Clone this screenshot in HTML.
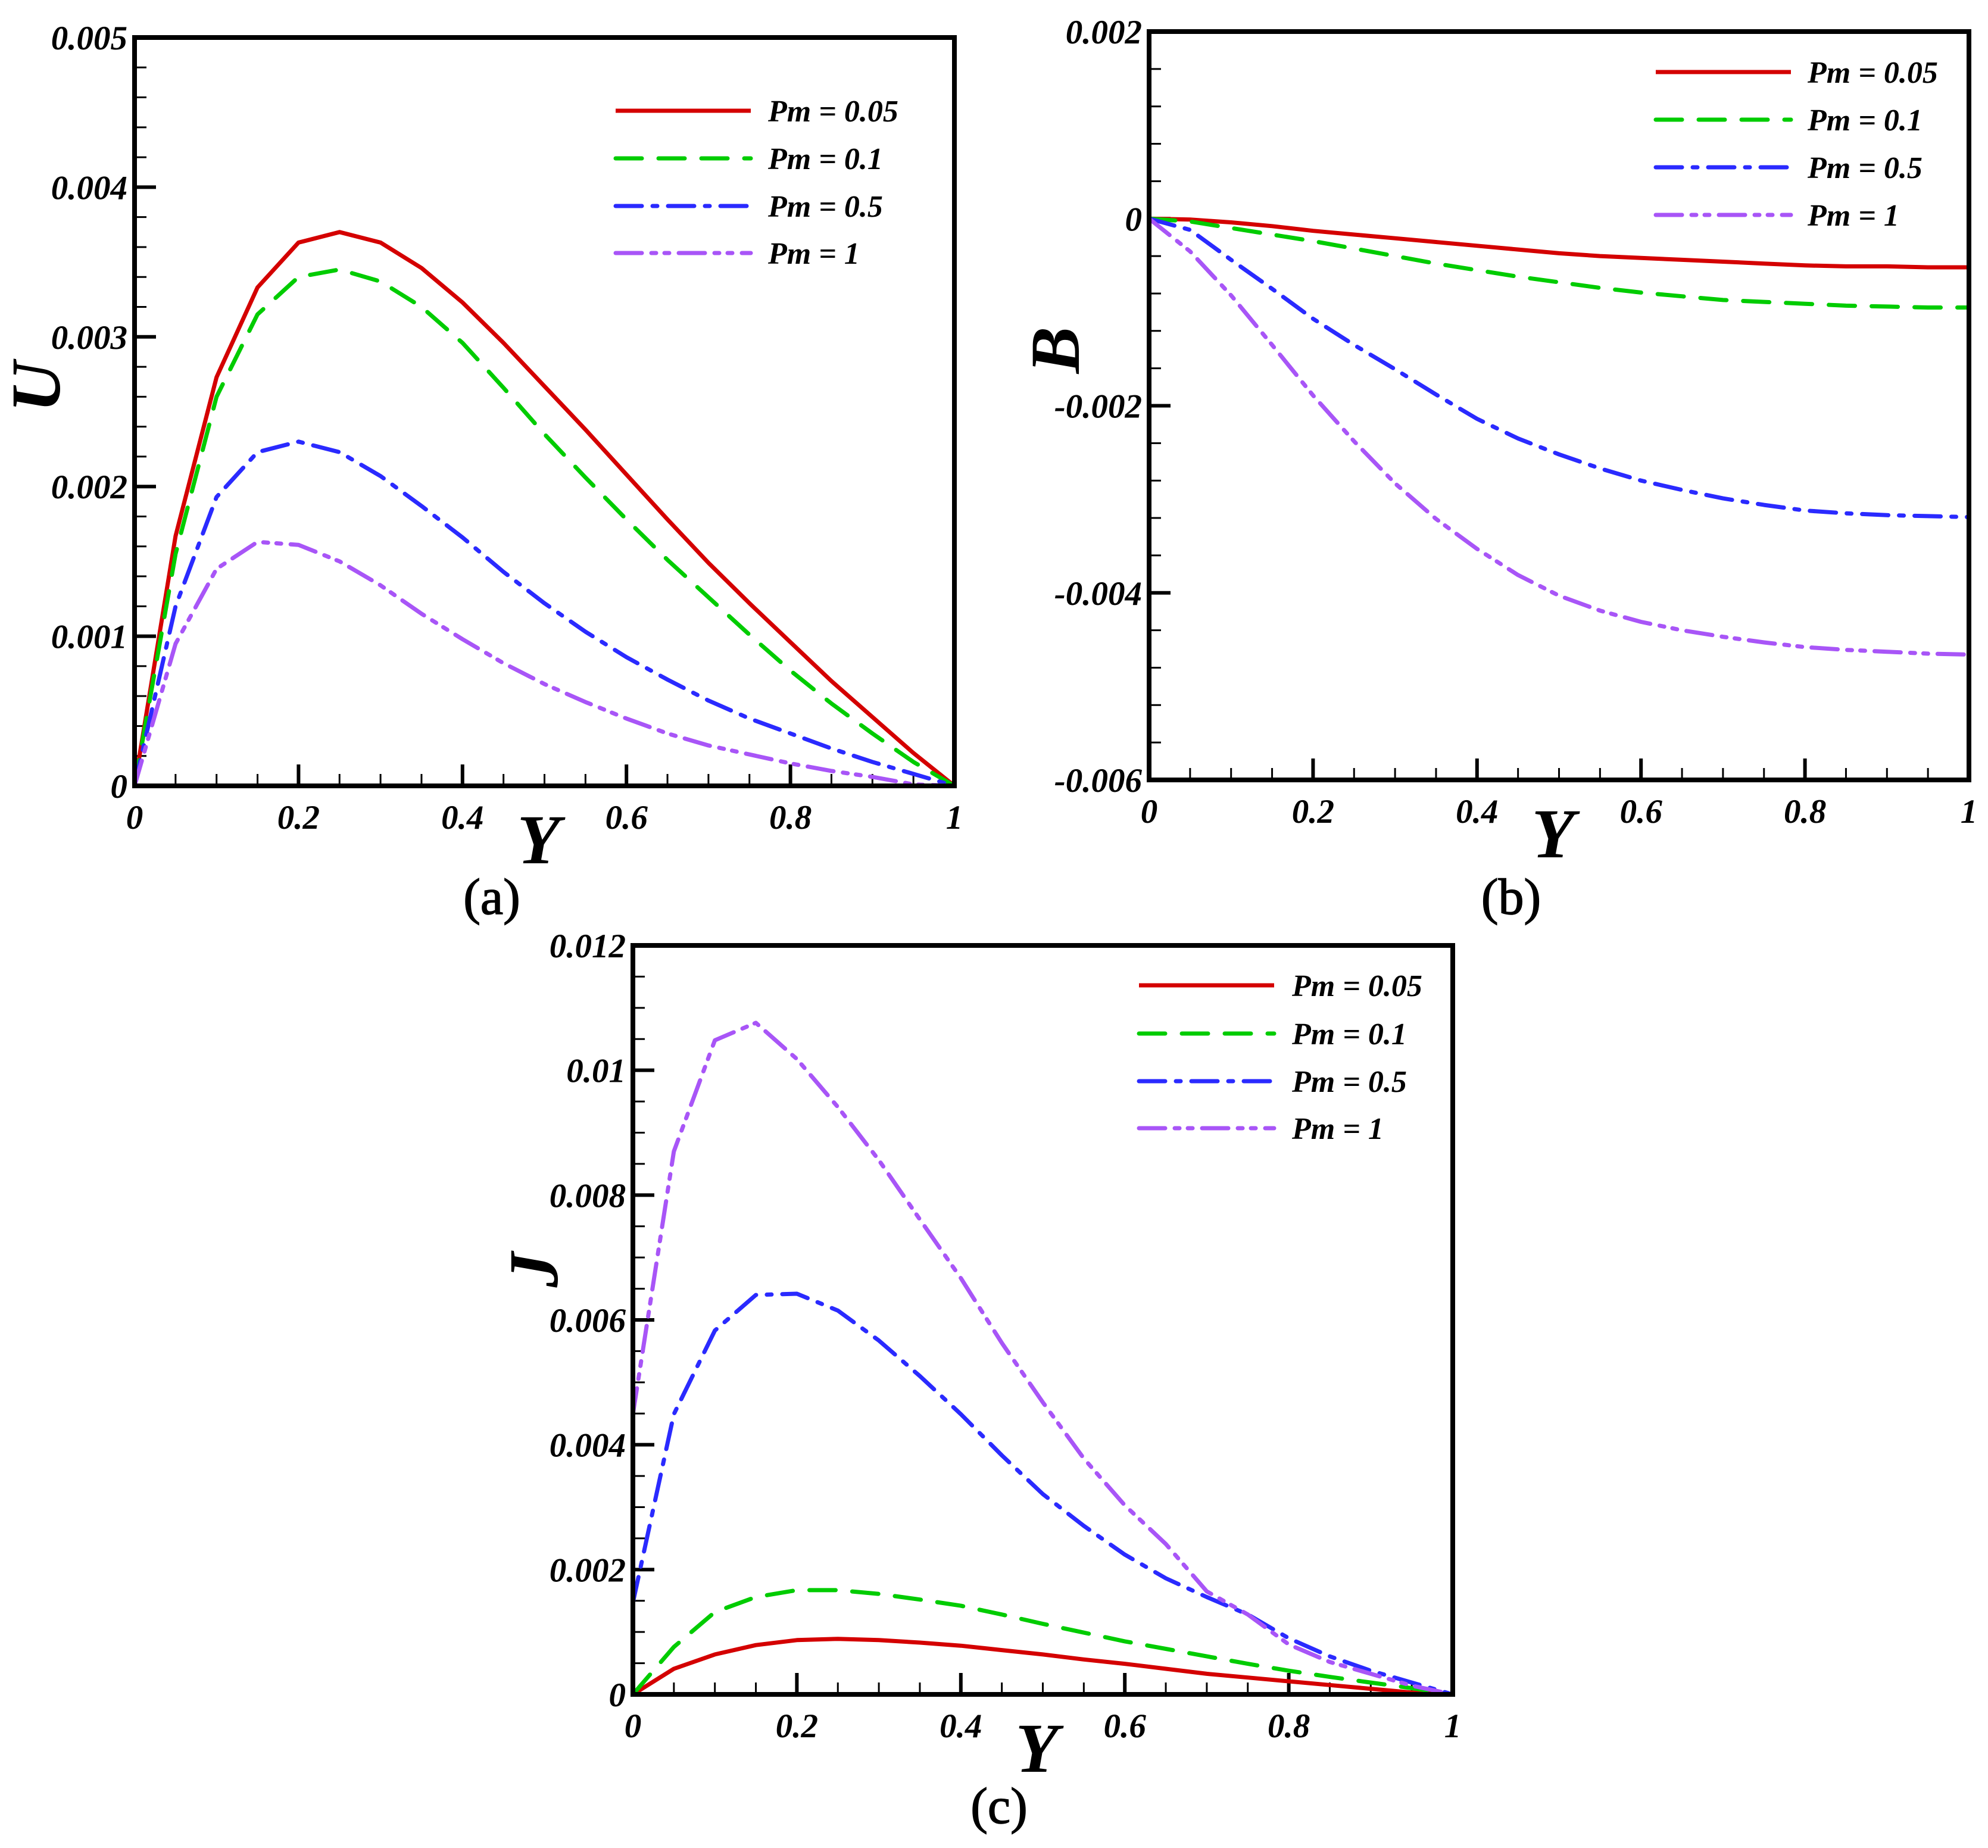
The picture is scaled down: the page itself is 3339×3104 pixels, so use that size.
<!DOCTYPE html>
<html><head><meta charset="utf-8">
<style>
html,body{margin:0;padding:0;background:#fff;}
svg{display:block;}
.tk{font-family:"Liberation Serif",serif;font-weight:bold;font-style:italic;font-size:57px;fill:#000;}
.ttl{font-family:"Liberation Serif",serif;font-weight:bold;font-style:italic;font-size:118px;fill:#000;}
.leg{font-family:"Liberation Serif",serif;font-weight:bold;font-style:italic;font-size:52px;fill:#000;}
.cap{font-family:"Liberation Serif",serif;font-size:86px;fill:#000;stroke:#000;stroke-width:1.5px;}
</style></head>
<body>
<svg id="fig" width="3339" height="3104" viewBox="0 0 3339 3104" xmlns="http://www.w3.org/2000/svg"></svg>
<script>
const xs = [0,0.05,0.1,0.15,0.2,0.25,0.3,0.35,0.4,0.45,0.5,0.55,0.6,0.65,0.7,0.75,0.8,0.85,0.9,0.95,1];
const seriesNames = ["Pm =  0.05","Pm =  0.1","Pm =  0.5","Pm =  1"];
// Panel (a) U (x1e-3)
const uRed    = [0,1.67,2.73,3.33,3.63,3.70,3.63,3.46,3.23,2.96,2.67,2.38,2.08,1.78,1.49,1.22,0.96,0.70,0.46,0.22,0];
const uGreen  = [0,1.55,2.60,3.15,3.40,3.45,3.37,3.20,2.96,2.66,2.35,2.06,1.78,1.51,1.26,1.01,0.77,0.55,0.35,0.16,0];
const uBlue   = [0,1.20,1.93,2.23,2.30,2.23,2.07,1.87,1.66,1.43,1.22,1.03,0.86,0.71,0.57,0.45,0.35,0.25,0.16,0.08,0];
const uPurple = [0,0.95,1.45,1.63,1.61,1.50,1.34,1.15,0.98,0.82,0.68,0.56,0.45,0.35,0.27,0.21,0.15,0.10,0.06,0.01,0];
// Panel (b) B (x1e-3)
const bRed    = [0,-0.01,-0.04,-0.08,-0.13,-0.17,-0.21,-0.25,-0.29,-0.33,-0.37,-0.40,-0.42,-0.44,-0.46,-0.48,-0.50,-0.51,-0.51,-0.52,-0.52];
const bGreen  = [0,-0.03,-0.10,-0.17,-0.24,-0.32,-0.40,-0.48,-0.55,-0.62,-0.68,-0.74,-0.79,-0.83,-0.87,-0.89,-0.91,-0.93,-0.94,-0.95,-0.95];
const bBlue   = [0,-0.12,-0.44,-0.75,-1.07,-1.35,-1.61,-1.88,-2.14,-2.35,-2.52,-2.67,-2.80,-2.90,-2.99,-3.06,-3.12,-3.15,-3.17,-3.18,-3.19];
const bPurple = [0,-0.35,-0.82,-1.35,-1.89,-2.38,-2.83,-3.21,-3.53,-3.81,-4.03,-4.19,-4.31,-4.40,-4.47,-4.53,-4.58,-4.61,-4.63,-4.65,-4.66];
// Panel (c) J (x1e-3)
const jRed    = [0,0.41,0.64,0.79,0.87,0.89,0.87,0.83,0.78,0.71,0.64,0.56,0.49,0.41,0.33,0.27,0.21,0.15,0.09,0.03,0];
const jGreen  = [0,0.76,1.32,1.56,1.67,1.67,1.61,1.52,1.42,1.28,1.13,0.99,0.85,0.73,0.61,0.49,0.38,0.28,0.19,0.10,0];
const jBlue   = [1.47,4.49,5.83,6.40,6.42,6.15,5.67,5.10,4.49,3.83,3.21,2.70,2.24,1.86,1.56,1.28,0.90,0.61,0.38,0.19,0];
const jPurple = [4.49,8.70,10.48,10.76,10.18,9.41,8.56,7.61,6.67,5.63,4.68,3.78,3.03,2.41,1.65,1.28,0.80,0.52,0.33,0.14,0];
const xTicks = [0,0.2,0.4,0.6,0.8,1];
const xTickLabels = ["0","0.2","0.4","0.6","0.8","1"];
const uTicks = [0,1,2,3,4,5];
const uTickLabels = ["0","0.001","0.002","0.003","0.004","0.005"];
const bTicks = [-6,-4,-2,0,2];
const bTickLabels = ["-0.006","-0.004","-0.002","0","0.002"];
const jTicks = [0,2,4,6,8,10,12];
const jTickLabels = ["0","0.002","0.004","0.006","0.008","0.01","0.012"];

const NS="http://www.w3.org/2000/svg";
const svg=document.getElementById('fig');
function mk(tag,attrs,parent){const e=document.createElementNS(NS,tag);for(const k in attrs)e.setAttribute(k,attrs[k]);(parent||svg).appendChild(e);return e;}
const colors=["#d40000","#00cc00","#2a2aff","#a855f7"];
const dashes=["none","44 28","44 18 8 18","44 16 8 14 8 16"];

function panel(cfg){
  const g=mk('g',{});
  
  
  const L=cfg.L,R=cfg.R,T=cfg.T,B=cfg.B;
  const sx=v=>L+(v-0)*(R-L);
  const sy=v=>B-(v-cfg.ymin)/(cfg.ymax-cfg.ymin)*(B-T);
  for(let i=0;i<=20;i++){const v=i*0.05;const major=(i%4===0);
    const t=mk('line',{x1:sx(v),x2:sx(v),y1:B,y2:B-(major?36:20),stroke:'#000','stroke-width':major?6:3},g);
    }
  const nMinor=Math.round((cfg.ymax-cfg.ymin)/cfg.minor);
  for(let i=0;i<=nMinor;i++){const v=cfg.ymin+i*cfg.minor;
    const major=cfg.yTicks.some(t=>Math.abs(t-v)<1e-6);
    const t=mk('line',{x1:L,x2:L+(major?36:20),y1:sy(v),y2:sy(v),stroke:'#000','stroke-width':major?6:3},g);
    }
  cfg.series.forEach((arr,k)=>{
    const pts=arr.map((v,i)=>sx(xs[i]).toFixed(1)+','+sy(v).toFixed(1)).join(' ');
    const p=mk('polyline',{points:pts,fill:'none',stroke:colors[k],'stroke-width':7,'stroke-dasharray':dashes[k],'stroke-linejoin':'round','stroke-linecap':k===0?'butt':'round'},g);
    
    
  });
  const f=mk('rect',{x:L,y:T,width:R-L,height:B-T,fill:'none',stroke:'#000','stroke-width':8},g);
  
  xTicks.forEach((v,i)=>{const t=mk('text',{x:sx(v),y:B+72,'text-anchor':'middle',class:'tk'},g);t.textContent=xTickLabels[i];
    });
  cfg.yTicks.forEach((v,i)=>{const t=mk('text',{x:L-12,y:sy(v)+20,'text-anchor':'end',class:'tk'},g);t.textContent=cfg.yLabels[i];
    });
  const xt=mk('text',{x:(L+R)/2-10,y:B+130,'text-anchor':'middle',class:'ttl'},g);xt.textContent='Y';
  
  const yt=mk('text',{x:0,y:0,'text-anchor':'middle',class:'ttl',transform:`translate(${cfg.ytx},${cfg.yty}) rotate(-90)`},g);yt.textContent=cfg.ytitle;
  
  const lg=mk('g',{},g);
  cfg.legY.forEach((y,k)=>{
    const e=mk('g',{},lg);
    mk('line',{x1:cfg.legX1,x2:cfg.legX2,y1:y,y2:y,stroke:colors[k],'stroke-width':7,'stroke-dasharray':dashes[k],'stroke-linecap':k===0?'butt':'round'},e);
    const t=mk('text',{x:cfg.legT,y:y+18,class:'leg','xml:space':'preserve'},e);t.textContent=seriesNames[k];
  });
  const c=mk('text',{x:cfg.capX,y:cfg.capY,'text-anchor':'middle',class:'cap'},g);c.textContent=cfg.cap;
  
}
panel({name:'panel-a-velocity',L:226,R:1603,T:63,B:1320,ymin:0,ymax:5,minor:0.2,yTicks:uTicks,yLabels:uTickLabels,
  series:[uRed,uGreen,uBlue,uPurple],ytitle:'U',ytx:100,yty:650,legX1:1034,legX2:1261,legT:1290,legY:[186,266,346,425],cap:'(a)',capX:826,capY:1535});
panel({name:'panel-b-magnetic',L:1930,R:3307,T:53,B:1310,ymin:-6,ymax:2,minor:0.4,yTicks:bTicks,yLabels:bTickLabels,
  series:[bRed,bGreen,bBlue,bPurple],ytitle:'B',ytx:1812,yty:588,legX1:2781,legX2:3008,legT:3036,legY:[121,201,281,361],cap:'(b)',capX:2538,capY:1535});
panel({name:'panel-c-current',L:1063,R:2440,T:1588,B:2846,ymin:0,ymax:12,minor:0.5,yTicks:jTicks,yLabels:jTickLabels,
  series:[jRed,jGreen,jBlue,jPurple],ytitle:'J',ytx:936,yty:2133,legX1:1913,legX2:2140,legT:2170,legY:[1655,1736,1816,1895],cap:'(c)',capX:1678,capY:3062});
</script>
</body></html>
